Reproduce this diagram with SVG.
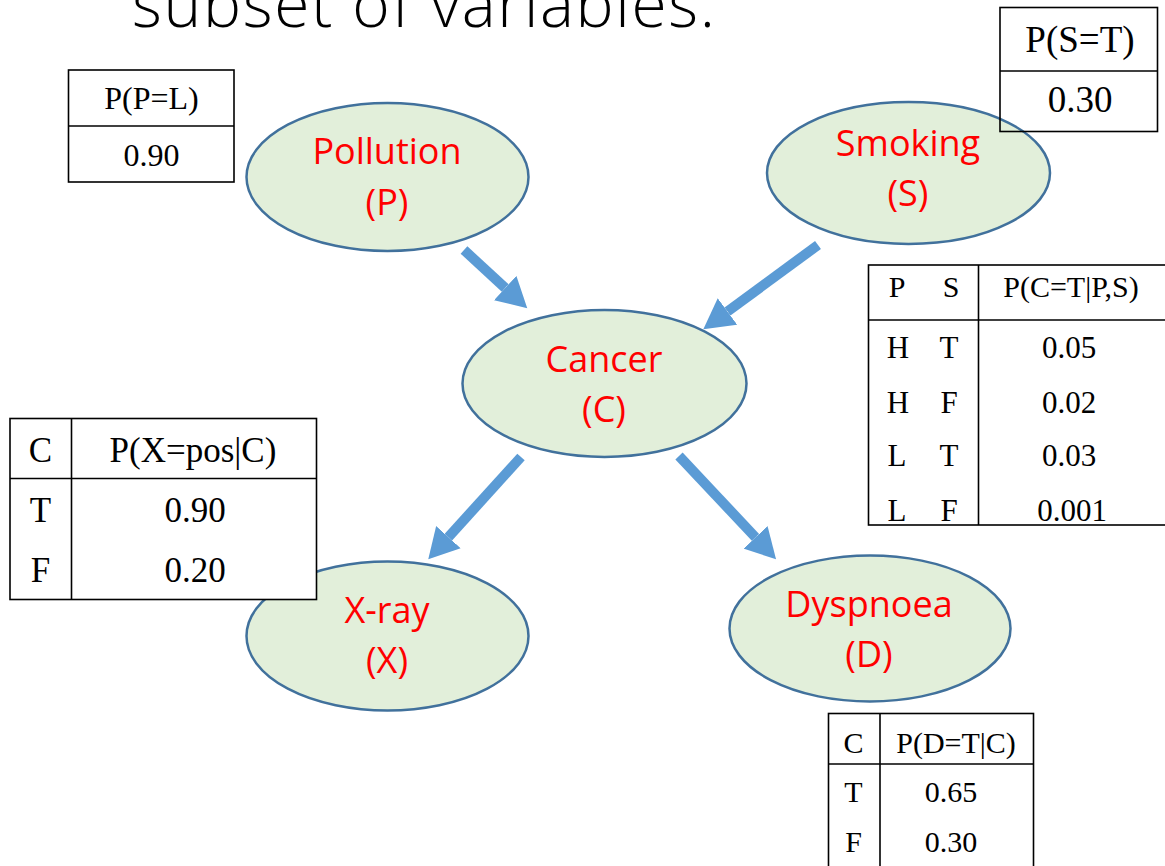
<svg xmlns="http://www.w3.org/2000/svg" width="1165" height="866" viewBox="0 0 1165 866">
  <style>
    .node ellipse { fill: #E2EFDA; stroke: #41719C; stroke-width: 2.5; }
    .label { font-family: "Open Sans", "Liberation Sans", sans-serif; font-size: 36px; fill: #FF0000; text-anchor: middle; }
    .edge { stroke: #5B9BD5; stroke-width: 10; fill: none; marker-end: url(#head); }
    .cpt rect, .cpt line { stroke: #000; stroke-width: 1.6; }
    .cpt rect { fill: none; }
    .cpt text { font-family: "Liberation Serif", "Times New Roman", serif; fill: #000; text-anchor: middle; }
    .title { font-family: "Open Sans", "Liberation Sans", sans-serif; font-weight: 300; font-size: 64px; fill: #000; }
  </style>
  <defs>
    <marker id="head" markerUnits="userSpaceOnUse" markerWidth="32" markerHeight="34" viewBox="0 -17 32 34" refX="0" refY="0" orient="auto">
      <path d="M0,-16.5 L30,0 L0,16.5 Z" fill="#5B9BD5"/>
    </marker>
  </defs>

  <rect width="1165" height="866" fill="#FFFFFF"/>

  <!-- slide heading, clipped at the top edge -->
  <text class="title" x="132" y="27" textLength="583" lengthAdjust="spacing">subset of variables.</text>

  <!-- variables -->
  <g id="node-pollution" class="node">
    <ellipse cx="387.5" cy="177" rx="141" ry="74"/>
    <text class="label" x="387" y="164">Pollution</text>
    <text class="label" x="387" y="215">(P)</text>
  </g>
  <g id="node-smoking" class="node">
    <ellipse cx="908.5" cy="173" rx="141.5" ry="71"/>
    <text class="label" x="908" y="156">Smoking</text>
    <text class="label" x="908" y="206">(S)</text>
  </g>
  <g id="node-cancer" class="node">
    <ellipse cx="604.5" cy="383.5" rx="142" ry="73.5"/>
    <text class="label" x="604" y="372">Cancer</text>
    <text class="label" x="604" y="422">(C)</text>
  </g>
  <g id="node-xray" class="node">
    <ellipse cx="387.5" cy="636" rx="141" ry="74.5"/>
    <text class="label" x="387" y="623">X-ray</text>
    <text class="label" x="387" y="673">(X)</text>
  </g>
  <g id="node-dyspnoea" class="node">
    <ellipse cx="870" cy="628.5" rx="140.5" ry="73"/>
    <text class="label" x="869" y="617">Dyspnoea</text>
    <text class="label" x="869" y="667">(D)</text>
  </g>

  <!-- directed edges -->
  <g id="edges">
    <line class="edge" x1="464" y1="250" x2="505.2" y2="288"/>
    <line class="edge" x1="818" y1="245" x2="727.5" y2="311.5"/>
    <line class="edge" x1="521" y1="457" x2="448.4" y2="537.1"/>
    <line class="edge" x1="679" y1="456" x2="755.5" y2="537.4"/>
  </g>

  <!-- probability tables -->
  <g id="cpt-pollution" class="cpt">
    <rect x="68.5" y="70" width="165.5" height="112"/>
    <line x1="68.5" y1="126" x2="234" y2="126"/>
    <text x="151.5" y="109" font-size="32">P(P=L)</text>
    <text x="151.5" y="166" font-size="32">0.90</text>
  </g>

  <g id="cpt-smoking" class="cpt">
    <rect x="1000" y="7.5" width="157.5" height="124"/>
    <line x1="1000" y1="71" x2="1157.5" y2="71"/>
    <text x="1080" y="52" font-size="37">P(S=T)</text>
    <text x="1080" y="112" font-size="37">0.30</text>
  </g>

  <g id="cpt-cancer" class="cpt">
    <rect x="868.5" y="265" width="300" height="260"/>
    <line x1="868.5" y1="320" x2="1168" y2="320"/>
    <line x1="978.5" y1="265" x2="978.5" y2="525"/>
    <g font-size="30">
      <text x="897" y="297">P</text>
      <text x="951" y="297">S</text>
      <text x="1071" y="297">P(C=T|P,S)</text>
    </g>
    <g font-size="31">
      <text x="898" y="358">H</text><text x="949" y="358">T</text><text x="1069" y="358">0.05</text>
      <text x="898" y="413">H</text><text x="949" y="413">F</text><text x="1069" y="413">0.02</text>
      <text x="897" y="466">L</text><text x="949" y="466">T</text><text x="1069" y="466">0.03</text>
      <text x="897" y="521">L</text><text x="949" y="521">F</text><text x="1072" y="521">0.001</text>
    </g>
  </g>

  <g id="cpt-xray" class="cpt">
    <rect x="10" y="418.5" width="306.5" height="181" style="fill:#FFFFFF"/>
    <line x1="10" y1="478.5" x2="316.5" y2="478.5"/>
    <line x1="71.5" y1="418.5" x2="71.5" y2="599.5"/>
    <g font-size="35">
      <text x="40.5" y="462">C</text><text x="193" y="462">P(X=pos|C)</text>
      <text x="40.5" y="522">T</text><text x="195" y="522">0.90</text>
      <text x="40.5" y="582">F</text><text x="195" y="582">0.20</text>
    </g>
  </g>

  <g id="cpt-dyspnoea" class="cpt">
    <rect x="828.5" y="713.5" width="205" height="160"/>
    <line x1="828.5" y1="764" x2="1033.5" y2="764"/>
    <line x1="880" y1="713.5" x2="880" y2="873"/>
    <g font-size="30">
      <text x="853.5" y="753">C</text><text x="956" y="753">P(D=T|C)</text>
      <text x="853.5" y="802">T</text><text x="951" y="802">0.65</text>
      <text x="853.5" y="852">F</text><text x="951" y="852">0.30</text>
    </g>
  </g>
</svg>
